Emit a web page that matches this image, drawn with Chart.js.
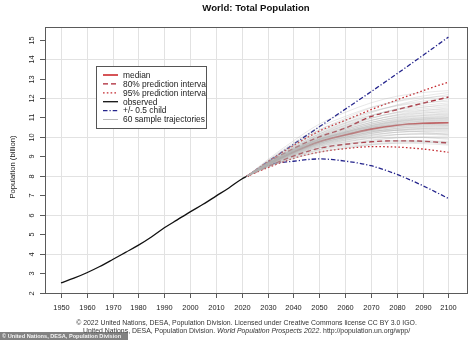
<!DOCTYPE html>
<html>
<head>
<meta charset="utf-8">
<script src="https://cdn.jsdelivr.net/npm/chart.js@4.4.1/dist/chart.umd.min.js"></script>
<style>
  html, body { margin: 0; padding: 0; background: #ffffff; }
  #wrap { width: 474px; height: 340px; position: relative; }
</style>
</head>
<body>
<div id="wrap"><canvas id="c" width="474" height="340"></canvas></div>
<script>
// World population, billions
const observedYears = [1950, 1955, 1960, 1965, 1970, 1975, 1980, 1985, 1990, 1995, 2000, 2005, 2010, 2015, 2020, 2022];
const observedPop   = [2.50, 2.74, 3.02, 3.34, 3.70, 4.07, 4.44, 4.86, 5.33, 5.74, 6.15, 6.54, 6.96, 7.38, 7.84, 7.98];

// Projection years (first point is the last observed year)
const projYears  = [2022, 2030, 2040, 2050, 2060, 2070, 2080, 2090, 2100];
const median     = [7.98, 8.58, 9.22, 9.75, 10.10, 10.40, 10.60, 10.70, 10.73];
const pi80Upper  = [7.98, 8.66, 9.40, 10.00, 10.45, 11.05, 11.40, 11.73, 12.05];
const pi80Lower  = [7.98, 8.48, 9.02, 9.42, 9.62, 9.75, 9.80, 9.78, 9.69];
const pi95Upper  = [7.98, 8.72, 9.55, 10.30, 10.85, 11.40, 11.90, 12.37, 12.82];
const pi95Lower  = [7.98, 8.42, 8.90, 9.22, 9.40, 9.50, 9.48, 9.38, 9.21];
const childPlus  = [7.98, 8.72, 9.62, 10.52, 11.42, 12.32, 13.24, 14.18, 15.13];
const childMinus = [7.98, 8.55, 8.75, 8.87, 8.76, 8.52, 8.08, 7.50, 6.84];

// Sample trajectories: values for 2030, 2040, ..., 2100
const trajectories = [
  [8.47, 8.95, 9.30, 9.50, 9.62, 9.68, 9.66, 9.58],
  [8.45, 8.90, 9.22, 9.42, 9.58, 9.68, 9.72, 9.70],
  [8.53, 9.06, 9.44, 9.64, 9.77, 9.81, 9.75, 9.63],
  [8.48, 8.97, 9.35, 9.55, 9.70, 9.80, 9.80, 9.73],
  [8.44, 8.89, 9.23, 9.44, 9.62, 9.75, 9.79, 9.78],
  [8.54, 9.09, 9.51, 9.74, 9.92, 9.99, 9.97, 9.88],
  [8.50, 9.02, 9.43, 9.66, 9.84, 9.96, 9.98, 9.93],
  [8.47, 8.97, 9.35, 9.60, 9.81, 9.95, 10.01, 10.01],
  [8.55, 9.12, 9.57, 9.83, 10.03, 10.13, 10.14, 10.08],
  [8.52, 9.07, 9.51, 9.77, 9.98, 10.12, 10.16, 10.13],
  [8.50, 9.03, 9.45, 9.72, 9.95, 10.11, 10.17, 10.18],
  [8.56, 9.15, 9.61, 9.89, 10.12, 10.24, 10.27, 10.23],
  [8.54, 9.11, 9.57, 9.85, 10.09, 10.24, 10.30, 10.28],
  [8.52, 9.08, 9.53, 9.82, 10.07, 10.24, 10.32, 10.33],
  [8.56, 9.17, 9.65, 9.95, 10.19, 10.34, 10.39, 10.37],
  [8.55, 9.14, 9.62, 9.92, 10.18, 10.34, 10.41, 10.41],
  [8.54, 9.12, 9.60, 9.90, 10.17, 10.35, 10.43, 10.45],
  [8.57, 9.18, 9.68, 10.00, 10.26, 10.43, 10.49, 10.49],
  [8.56, 9.17, 9.67, 9.99, 10.26, 10.44, 10.52, 10.53],
  [8.55, 9.16, 9.66, 9.98, 10.26, 10.45, 10.54, 10.56],
  [8.57, 9.20, 9.71, 10.04, 10.32, 10.50, 10.58, 10.59],
  [8.57, 9.20, 9.71, 10.05, 10.33, 10.52, 10.61, 10.63],
  [8.57, 9.20, 9.71, 10.05, 10.34, 10.54, 10.63, 10.66],
  [8.58, 9.21, 9.74, 10.08, 10.38, 10.57, 10.67, 10.69],
  [8.58, 9.22, 9.75, 10.09, 10.39, 10.59, 10.69, 10.72],
  [8.58, 9.23, 9.76, 10.11, 10.42, 10.62, 10.72, 10.75],
  [8.58, 9.23, 9.76, 10.12, 10.43, 10.64, 10.74, 10.78],
  [8.59, 9.24, 9.78, 10.14, 10.46, 10.66, 10.77, 10.81],
  [8.60, 9.26, 9.81, 10.18, 10.49, 10.70, 10.81, 10.84],
  [8.59, 9.24, 9.79, 10.16, 10.48, 10.70, 10.82, 10.87],
  [8.60, 9.26, 9.82, 10.19, 10.52, 10.74, 10.85, 10.90],
  [8.61, 9.29, 9.86, 10.24, 10.56, 10.78, 10.89, 10.93],
  [8.59, 9.25, 9.81, 10.20, 10.53, 10.77, 10.90, 10.96],
  [8.61, 9.29, 9.86, 10.25, 10.59, 10.82, 10.94, 11.00],
  [8.63, 9.33, 9.92, 10.31, 10.65, 10.87, 10.99, 11.03],
  [8.60, 9.27, 9.85, 10.24, 10.59, 10.84, 10.99, 11.07],
  [8.62, 9.32, 9.90, 10.31, 10.67, 10.90, 11.04, 11.11],
  [8.64, 9.37, 9.98, 10.39, 10.74, 10.98, 11.10, 11.15],
  [8.60, 9.29, 9.88, 10.29, 10.66, 10.93, 11.10, 11.19],
  [8.63, 9.35, 9.95, 10.38, 10.75, 11.00, 11.15, 11.23],
  [8.66, 9.41, 10.05, 10.49, 10.85, 11.10, 11.23, 11.28],
  [8.61, 9.31, 9.92, 10.35, 10.74, 11.03, 11.22, 11.33],
  [8.65, 9.38, 10.01, 10.46, 10.86, 11.12, 11.29, 11.38],
  [8.69, 9.47, 10.14, 10.59, 10.97, 11.23, 11.37, 11.43],
  [8.62, 9.33, 9.96, 10.42, 10.83, 11.15, 11.35, 11.49],
  [8.66, 9.43, 10.08, 10.55, 10.97, 11.26, 11.44, 11.55],
  [8.71, 9.53, 10.23, 10.72, 11.12, 11.39, 11.54, 11.61],
  [8.63, 9.36, 10.02, 10.50, 10.94, 11.28, 11.52, 11.68],
  [8.68, 9.48, 10.16, 10.66, 11.11, 11.42, 11.62, 11.75],
  [8.75, 9.61, 10.36, 10.87, 11.30, 11.59, 11.76, 11.83],
  [8.64, 9.40, 10.08, 10.60, 11.07, 11.45, 11.71, 11.91],
  [8.71, 9.54, 10.26, 10.80, 11.29, 11.62, 11.84, 12.00],
  [8.78, 9.70, 10.50, 11.05, 11.52, 11.82, 12.01, 12.09],
  [8.65, 9.44, 10.16, 10.71, 11.23, 11.64, 11.95, 12.18],
  [8.74, 9.61, 10.37, 10.95, 11.49, 11.84, 12.10, 12.28],
  [8.83, 9.80, 10.66, 11.26, 11.75, 12.09, 12.28, 12.38],
  [8.57, 9.18, 9.67, 9.97, 10.23, 10.38, 10.44, 10.43],
  [8.62, 9.32, 9.88, 10.25, 10.50, 10.62, 10.64, 10.60],
  [8.61, 9.28, 9.85, 10.24, 10.58, 10.80, 10.93, 10.98],
  [8.64, 9.35, 9.88, 10.18, 10.32, 10.34, 10.25, 10.11]
];

const xTickYears  = [1950, 1960, 1970, 1980, 1990, 2000, 2010, 2020, 2030, 2040, 2050, 2060, 2070, 2080, 2090, 2100];
const yTickValues = [2, 3, 4, 5, 6, 7, 8, 9, 10, 11, 12, 13, 14, 15];
const yGridValues = [2, 4, 6, 8, 10, 12, 14];

const titleText  = 'World: Total Population';
const yAxisTitle = 'Population (billion)';
const legendLabels = ['median', '80% prediction interval', '95% prediction interval', 'observed', '+/- 0.5 child', '60 sample trajectories'];
const footerLine1 = '\u00A9 2022 United Nations, DESA, Population Division. Licensed under Creative Commons license CC BY 3.0 IGO.';
const footerLine2Parts = ['United Nations, DESA, Population Division. ', 'World Population Prospects 2022', '. http://population.un.org/wpp/'];
const creditText = '\u00A9 United Nations, DESA, Population Division';

// Line styles
const RED_MED = '#cc2a2e';
const RED_80  = '#aa2230';
const RED_95  = '#c42a30';
const BLUE    = '#24248c';
const GREY    = 'rgba(175,175,175,0.42)';
const DASH_80 = [5, 3];
const DASH_95 = [1.6, 2.2];
const DASH_CH = [4.5, 2, 1.2, 2];

const FONT = '"Liberation Sans", Arial, Helvetica, sans-serif';

function pts(xs, ys) { return xs.map((x, i) => ({ x: x, y: ys[i] })); }

const datasets = [];
trajectories.forEach(t => {
  datasets.push({
    data: pts(projYears, [median[0]].concat(t)),
    borderColor: GREY, borderWidth: 0.7, pointRadius: 0,
    cubicInterpolationMode: 'monotone'
  });
});
datasets.push({ data: pts(observedYears, observedPop), borderColor: '#111111', borderWidth: 1.3, pointRadius: 0, cubicInterpolationMode: 'monotone' });
datasets.push({ data: pts(projYears, pi95Upper), borderColor: RED_95, borderWidth: 1.3, borderDash: DASH_95, pointRadius: 0, cubicInterpolationMode: 'monotone' });
datasets.push({ data: pts(projYears, pi95Lower), borderColor: RED_95, borderWidth: 1.3, borderDash: DASH_95, pointRadius: 0, cubicInterpolationMode: 'monotone' });
datasets.push({ data: pts(projYears, pi80Upper), borderColor: RED_80, borderWidth: 1.4, borderDash: DASH_80, pointRadius: 0, cubicInterpolationMode: 'monotone' });
datasets.push({ data: pts(projYears, pi80Lower), borderColor: RED_80, borderWidth: 1.4, borderDash: DASH_80, pointRadius: 0, cubicInterpolationMode: 'monotone' });
datasets.push({ data: pts(projYears, median), borderColor: RED_MED, borderWidth: 1.6, pointRadius: 0, cubicInterpolationMode: 'monotone' });
datasets.push({ data: pts(projYears, childPlus), borderColor: BLUE, borderWidth: 1.3, borderDash: DASH_CH, pointRadius: 0, cubicInterpolationMode: 'monotone' });
datasets.push({ data: pts(projYears, childMinus), borderColor: BLUE, borderWidth: 1.3, borderDash: DASH_CH, pointRadius: 0, cubicInterpolationMode: 'monotone' });

// Legend entries: style for each sample line
const legendStyles = [
  { color: RED_MED, width: 1.6, dash: [] },
  { color: RED_80,  width: 1.4, dash: DASH_80 },
  { color: RED_95,  width: 1.3, dash: DASH_95 },
  { color: '#111111', width: 1.3, dash: [] },
  { color: BLUE,    width: 1.3, dash: DASH_CH },
  { color: 'rgba(170,170,170,0.9)', width: 0.9, dash: [] }
];

// Grid underneath the lines
const gridPlugin = {
  id: 'gridUnder',
  beforeDatasetsDraw(chart) {
    const { ctx, chartArea: a, scales: { x, y } } = chart;
    ctx.save();
    ctx.strokeStyle = '#e2e2e2';
    ctx.lineWidth = 1;
    xTickYears.forEach(v => {
      const px = Math.round(x.getPixelForValue(v)) + 0.5;
      ctx.beginPath(); ctx.moveTo(px, a.top); ctx.lineTo(px, a.bottom); ctx.stroke();
    });
    yGridValues.forEach(v => {
      const py = Math.round(y.getPixelForValue(v)) + 0.5;
      ctx.beginPath(); ctx.moveTo(a.left, py); ctx.lineTo(a.right, py); ctx.stroke();
    });
    ctx.restore();
  }
};

// Frame, ticks, labels, legend and texts around the plot
const decorPlugin = {
  id: 'decor',
  afterDatasetsDraw(chart) {
    const { ctx, chartArea: a, scales: { x, y } } = chart;
    ctx.save();

    // box
    ctx.strokeStyle = '#5a5a5a';
    ctx.lineWidth = 1;
    ctx.strokeRect(Math.round(a.left) + 0.5, Math.round(a.top) + 0.5, Math.round(a.right - a.left), Math.round(a.bottom - a.top));

    // x ticks and labels
    ctx.fillStyle = '#222';
    ctx.font = '7.4px ' + FONT;
    ctx.textAlign = 'center';
    ctx.textBaseline = 'middle';
    xTickYears.forEach(v => {
      const px = Math.round(x.getPixelForValue(v)) + 0.5;
      ctx.beginPath(); ctx.moveTo(px, a.bottom); ctx.lineTo(px, a.bottom + 5); ctx.stroke();
      ctx.fillText(String(v), px, a.bottom + 15);
    });

    // y ticks and rotated labels
    yTickValues.forEach(v => {
      const py = Math.round(y.getPixelForValue(v)) + 0.5;
      ctx.beginPath(); ctx.moveTo(a.left - 5, py); ctx.lineTo(a.left, py); ctx.stroke();
      ctx.save();
      ctx.translate(a.left - 13, py);
      ctx.rotate(-Math.PI / 2);
      ctx.fillText(String(v), 0, 0);
      ctx.restore();
    });

    // y axis title
    ctx.save();
    ctx.font = '7.7px ' + FONT;
    ctx.translate(13, 167);
    ctx.rotate(-Math.PI / 2);
    ctx.fillText(yAxisTitle, 0, 0);
    ctx.restore();

    // title
    ctx.font = 'bold 9.6px ' + FONT;
    ctx.fillStyle = '#111';
    ctx.fillText(titleText, (a.left + a.right) / 2, 8);

    // legend
    const lx = a.left + 51, ly = a.top + 39, lw = 110, lh = 62;
    ctx.fillStyle = '#ffffff';
    ctx.fillRect(lx, ly, lw, lh);
    ctx.strokeStyle = '#555';
    ctx.lineWidth = 1;
    ctx.strokeRect(lx + 0.5, ly + 0.5, lw, lh);
    ctx.save();
    ctx.beginPath(); ctx.rect(lx + 1, ly + 1, lw - 1, lh - 1); ctx.clip();
    ctx.font = '8.4px ' + FONT;
    ctx.textAlign = 'left';
    ctx.textBaseline = 'middle';
    legendLabels.forEach((lab, i) => {
      const ry = ly + 9 + i * 8.9;
      const st = legendStyles[i];
      ctx.strokeStyle = st.color;
      ctx.lineWidth = st.width;
      ctx.setLineDash(st.dash);
      ctx.beginPath(); ctx.moveTo(lx + 7, ry); ctx.lineTo(lx + 22, ry); ctx.stroke();
      ctx.setLineDash([]);
      ctx.fillStyle = '#222';
      ctx.fillText(lab, lx + 27, ry + 0.5);
    });
    ctx.restore();

    // footer lines
    ctx.fillStyle = '#333';
    ctx.textAlign = 'center';
    ctx.textBaseline = 'middle';
    ctx.font = '6.9px ' + FONT;
    ctx.fillText(footerLine1, 246.5, 323.5);

    const fNormal = '6.9px ' + FONT, fItalic = 'italic 6.9px ' + FONT;
    ctx.font = fNormal; const w0 = ctx.measureText(footerLine2Parts[0]).width;
    ctx.font = fItalic; const w1 = ctx.measureText(footerLine2Parts[1]).width;
    ctx.font = fNormal; const w2 = ctx.measureText(footerLine2Parts[2]).width;
    let fx = 246.5 - (w0 + w1 + w2) / 2;
    ctx.textAlign = 'left';
    ctx.font = fNormal; ctx.fillText(footerLine2Parts[0], fx, 331.5); fx += w0;
    ctx.font = fItalic; ctx.fillText(footerLine2Parts[1], fx, 331.5); fx += w1;
    ctx.font = fNormal; ctx.fillText(footerLine2Parts[2], fx, 331.5);

    // photo credit strip
    ctx.fillStyle = 'rgba(95,95,95,0.78)';
    ctx.fillRect(0, 332, 128, 8);
    ctx.fillStyle = '#f4f4f4';
    ctx.font = 'bold 5.6px ' + FONT;
    ctx.fillText(creditText, 2, 336.3);

    ctx.restore();
  }
};

new Chart(document.getElementById('c'), {
  type: 'line',
  data: { datasets: datasets },
  options: {
    responsive: false,
    animation: false,
    devicePixelRatio: 1,
    layout: { padding: { left: 45, top: 27, right: 7, bottom: 47 } },
    scales: {
      x: { type: 'linear', min: 1943.8, max: 2107.2, display: false },
      y: { type: 'linear', min: 1.98, max: 15.65, display: false }
    },
    plugins: { legend: { display: false }, tooltip: { enabled: false } },
    elements: { line: { fill: false } }
  },
  plugins: [gridPlugin, decorPlugin]
});
</script>
</body>
</html>
